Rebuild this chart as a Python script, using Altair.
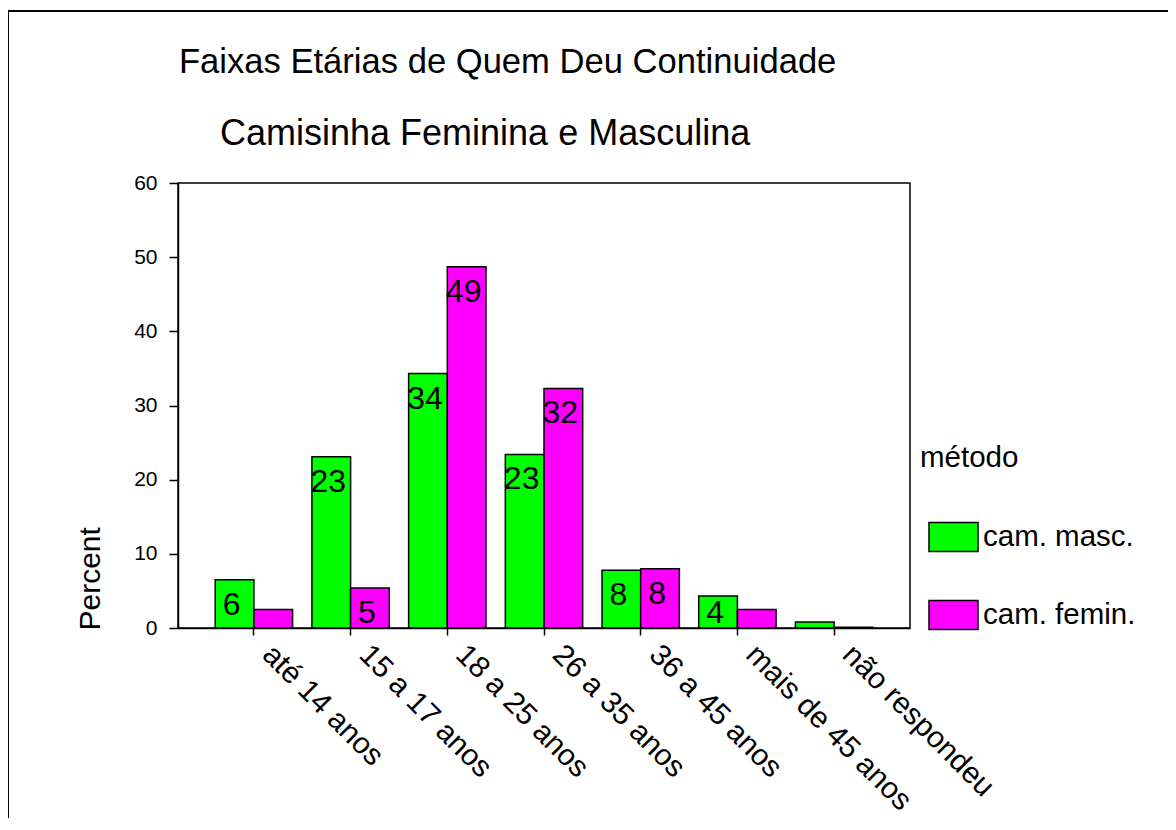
import altair as alt
import pandas as pd

categories = ["até 14 anos", "15 a 17 anos", "18 a 25 anos", "26 a 35 anos",
              "36 a 45 anos", "mais de 45 anos", "não respondeu"]
methods = ["cam. masc.", "cam. femin."]
masc_values = [6.5, 23.1, 34.3, 23.4, 7.8, 4.3, 0.8]
femin_values = [2.5, 5.4, 48.7, 32.3, 8.0, 2.5, 0.1]
masc_labels = ["6", "23", "34", "23", "8", "4", ""]
femin_labels = ["", "5", "49", "32", "8", "", ""]
y_ticks = [0, 10, 20, 30, 40, 50, 60]
title_text = "Faixas Etárias de Quem Deu Continuidade"
subtitle_text = "Camisinha Feminina e Masculina"

rows = []
for c, v, l in zip(categories, masc_values, masc_labels):
    rows.append({"faixa": c, "método": methods[0], "Percent": v, "label": l})
for c, v, l in zip(categories, femin_values, femin_labels):
    rows.append({"faixa": c, "método": methods[1], "Percent": v, "label": l})
df = pd.DataFrame(rows)

FONT = "Liberation Sans"

x_enc = alt.X("faixa:N", sort=categories,
              scale=alt.Scale(paddingInner=0.2, paddingOuter=0.385),
              axis=alt.Axis(title="", labelAngle=45, labelAlign="left",
                            labelBaseline="top", labelFontSize=30, labelFont=FONT,
                            labelColor="black", tickSize=7, tickColor="black",
                            tickWidth=1.5, domainColor="black", domainWidth=1.5,
                            labelPadding=4, labelOffset=24, labelLimit=400))
xoff_enc = alt.XOffset("método:N", sort=methods)
y_enc = alt.Y("Percent:Q", scale=alt.Scale(domain=[0, 60]),
              axis=alt.Axis(values=y_ticks, grid=False, tickSize=9, tickColor="black",
                            tickWidth=1.5, domainColor="black", domainWidth=1.5,
                            labelFontSize=21, labelFont=FONT, labelColor="black",
                            labelPadding=12, title="Percent", titleFont=FONT,
                            titleFontSize=30, titleFontWeight="normal",
                            titleColor="black", titleAngle=270, titleAlign="left",
                            titleBaseline="middle", titleX=-88, titleY=447))

color_enc = alt.Color("método:N", sort=methods,
                      scale=alt.Scale(domain=methods, range=["#00FF00", "#FF00FF"]),
                      legend=alt.Legend(orient="none", legendX=742, legendY=261,
                                        title="método", titleFont=FONT,
                                        titleFontSize=29.5, titleFontWeight="normal",
                                        titleColor="black", titlePadding=38,
                                        labelFont=FONT, labelFontSize=29.5,
                                        labelColor="black", labelOffset=4,
                                        symbolOffset=8,
                                        symbolType="M-1,-0.592H1V0.592H-1Z",
                                        symbolSize=2401, symbolStrokeColor="black",
                                        symbolStrokeWidth=1.5, symbolOpacity=1,
                                        rowPadding=34, labelLimit=400))

bars = alt.Chart(df).mark_bar(stroke="black", strokeWidth=1.5, opacity=1).encode(
    x=x_enc, xOffset=xoff_enc, y=y_enc, color=color_enc)

labels = alt.Chart(df).transform_calculate(
    label_y="max(datum.Percent - 4.72, 0.67)"
).mark_text(baseline="alphabetic", align="center", dx=-3,
            fontSize=32, font=FONT, color="black").encode(
    x=alt.X("faixa:N", sort=categories), xOffset=alt.XOffset("método:N", sort=methods),
    y="label_y:Q", text="label:N")

t1 = alt.Chart(pd.DataFrame({"t": [title_text]})).mark_text(
    align="left", baseline="alphabetic", fontSize=34.6, font=FONT, color="black").encode(
    text="t:N", x=alt.value(1), y=alt.value(-110))
t2 = alt.Chart(pd.DataFrame({"t": [subtitle_text]})).mark_text(
    align="left", baseline="alphabetic", fontSize=36, font=FONT, color="black").encode(
    text="t:N", x=alt.value(42), y=alt.value(-38))

border_left = alt.Chart(pd.DataFrame({"a": [0]})).mark_rule(
    color="black", strokeWidth=2).encode(
    x=alt.value(-170), y=alt.value(-172), y2=alt.value(660))
border_top = alt.Chart(pd.DataFrame({"a": [0]})).mark_rule(
    color="black", strokeWidth=2).encode(
    x=alt.value(-170), x2=alt.value(990), y=alt.value(-172))

chart = alt.layer(bars, labels, t1, t2, border_left, border_top).properties(
    width=732, height=445,
    background="white",
    autosize=alt.AutoSizeParams(type="none"),
    padding={"left": 170, "top": 175, "right": 258, "bottom": 190},
).configure_view(stroke="black", strokeWidth=1.5)

chart.save("out.html", embed_options={"renderer": "svg", "actions": False})
